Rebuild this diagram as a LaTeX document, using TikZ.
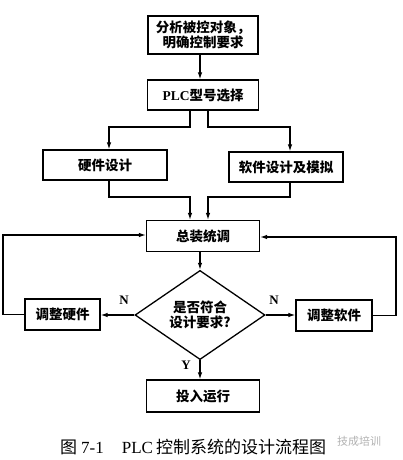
\documentclass[tikz,border=0pt]{standalone}
\usepackage{fontspec}
\setmainfont{Liberation Serif}
\newfontfamily\cjk{Noto Sans CJK SC}
\usetikzlibrary{shapes.geometric,arrows.meta}
\tikzset{
  x=1pt,y=-1pt,
  box/.style={draw,line width=1.3pt,inner sep=0pt,align=center,font=\cjk\bfseries\fontsize{13.5}{15}\selectfont},
  dec/.style={draw,diamond,line width=1.3pt,inner sep=0pt,minimum width=130pt,minimum height=71pt,align=center,font=\cjk\bfseries\fontsize{13.5}{15}\selectfont},
  arr/.style={line width=1.1pt,-{Latex[length=7pt,width=4.5pt]}},
  lbl/.style={font=\bfseries\fontsize{13}{15}\selectfont,inner sep=0pt}
}
\begin{document}
\begin{tikzpicture}
\useasboundingbox (0,0) rectangle (402,460);
\node[box,minimum width=110pt,minimum height=38pt] (b1) at (203,35) {分析被控对象，\\明确控制要求};
\node[box,minimum width=111pt,minimum height=30pt] (b2) at (203,95) {{\rmfamily\bfseries PLC}型号选择};
\node[box,minimum width=124pt,minimum height=30pt] (b3) at (105,165) {硬件设计};
\node[box,minimum width=114pt,minimum height=30pt] (b4) at (286,167) {软件设计及模拟};
\node[box,minimum width=113pt,minimum height=31pt] (b5) at (203,236) {总装统调};
\node[dec] (dia) at (200,315) {是否符合\\设计要求?};
\node[box,minimum width=75pt,minimum height=31pt] (bH) at (62.5,314.5) {调整硬件};
\node[box,minimum width=76pt,minimum height=31pt] (bS) at (334,315.5) {调整软件};
\node[box,minimum width=113pt,minimum height=32pt] (b6) at (203,396) {投入运行};
% connectors
\draw[arr] (b1.south -| dia.north) -- (b2.north -| dia.north);
\draw[arr] (b2.south -| 190,0) -- (190,127) -- (109,127) -- (b3.north -| 109,0);
\draw[arr] (b2.south -| 208,0) -- (208,127) -- (290,127) -- (b4.north -| 290,0);
\draw[arr] (b3.south -| 109,0) -- (109,197) -- (190,197) -- (b5.north -| 190,0);
\draw[arr] (b4.south -| 290,0) -- (290,197) -- (208,197) -- (b5.north -| 208,0);
\draw[arr] (b5.south -| dia.north) -- (dia.north);
\draw[arr] (dia.west) -- (dia.west -| bH.east);
\draw[arr] (dia.east) -- (dia.east -| bS.west);
\draw[arr] (dia.south) -- (b6.north -| dia.south);
\draw[arr] (bH.west) -- (3,0 |- bH.west) -- (3,235) -- (b5.west |- 0,235);
\draw[arr] (bS.east) -- (396,0 |- bS.east) -- (396,237) -- (b5.east |- 0,237);
% labels
\node[lbl] (nL) at (124,300) {N};
\node[lbl] (nR) at (274,300) {N};
\node[lbl] (yD) at (186,365) {Y};
% caption
\node[inner sep=0pt,anchor=west,font=\fontsize{17}{19}\selectfont] (cap) at (60,447) {{\cjk 图}\hspace{4pt}7-1\hspace{18pt}PLC\hspace{3pt}{\cjk 控制系统的设计流程图}};
\node[inner sep=0pt,anchor=west,text=black!30,font=\cjk\fontsize{11}{13}\selectfont] (wm) at (337,441) {技成培训};
\end{tikzpicture}
\end{document}
